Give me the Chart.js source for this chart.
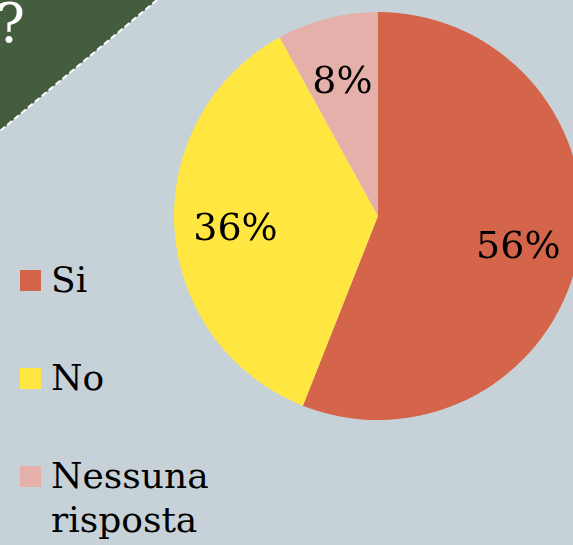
<!DOCTYPE html>
<html>
<head>
<meta charset="utf-8">
<script src="https://cdn.jsdelivr.net/npm/chart.js@4"></script>
<style>
  html, body { margin:0; padding:0; width:573px; height:545px; overflow:hidden; background:#C7D2D8; }
  body { position:relative; font-family:"DejaVu Serif", serif; }
  #deco { position:absolute; left:0; top:0; }
  #q { position:absolute; left:-4px; top:-3px; font-family:"DejaVu Serif", serif; font-size:54px; color:#fff; line-height:54px; }
  #wrap { position:absolute; left:174px; top:12px; width:408px; height:408px; }
  #legend { position:absolute; left:20px; top:258px; }
  .item { position:relative; height:98px; }
  .sw { position:absolute; left:0; top:12px; width:21px; height:21px; }
  .lab { position:absolute; left:31px; top:0; font-size:36px; line-height:44px; color:#000; white-space:nowrap; }
</style>
</head>
<body>
<svg id="deco" width="200" height="150">
  <polygon points="0,0 157,0 0,131" fill="#445D3E"/>
  <line x1="157" y1="0" x2="0" y2="131" stroke="#fff" stroke-width="2" stroke-dasharray="6,3"/>
</svg>
<div id="q">?</div>
<div id="wrap"><canvas id="c" width="408" height="408"></canvas></div>
<div id="legend"></div>
<script>
const categories = ["Si", "No", "Nessuna risposta"];
const legendLines = [["Si"], ["No"], ["Nessuna", "risposta"]];
const values = [56, 36, 8];
const valueLabels = ["56%", "36%", "8%"];
const colors = ["#D4654A", "#FFE641", "#E5B0AA"];

const labelPlugin = {
  id: 'sliceLabels',
  afterDatasetsDraw(chart) {
    const ctx = chart.ctx;
    const meta = chart.getDatasetMeta(0);
    ctx.save();
    ctx.font = '38px "DejaVu Serif", serif';
    ctx.fillStyle = '#000';
    ctx.textAlign = 'center';
    ctx.textBaseline = 'middle';
    meta.data.forEach((arc, i) => {
      const p = arc.getProps(['x','y','startAngle','endAngle','outerRadius'], true);
      const mid = (p.startAngle + p.endAngle) / 2;
      const r = p.outerRadius * 0.7;
      ctx.fillText(valueLabels[i], p.x + Math.cos(mid) * r, p.y + Math.sin(mid) * r + 5);
    });
    ctx.restore();
  }
};

new Chart(document.getElementById('c'), {
  type: 'pie',
  data: {
    labels: categories,
    datasets: [{ data: values, backgroundColor: colors, borderWidth: 0 }]
  },
  options: {
    responsive: false,
    animation: false,
    layout: { padding: 0 },
    plugins: { legend: { display: false }, tooltip: { enabled: false } }
  },
  plugins: [labelPlugin]
});

const lg = document.getElementById('legend');
categories.forEach((c, i) => {
  const it = document.createElement('div');
  it.className = 'item';
  const sw = document.createElement('div');
  sw.className = 'sw';
  sw.style.background = colors[i];
  const lab = document.createElement('div');
  lab.className = 'lab';
  lab.innerHTML = legendLines[i].join('<br>');
  it.appendChild(sw); it.appendChild(lab);
  lg.appendChild(it);
});
</script>
</body>
</html>
